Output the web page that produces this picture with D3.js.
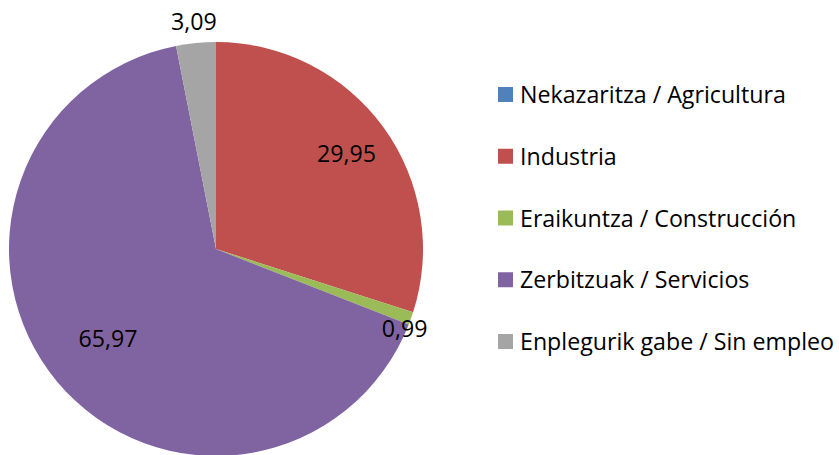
<!DOCTYPE html>
<html><head><meta charset="utf-8">
<script src="https://cdn.jsdelivr.net/npm/d3@7"></script>
<style>body{margin:0;background:#fff}svg{display:block}</style>
</head><body>
<svg id="c" width="839" height="455"></svg>
<script>
const categories = ["Nekazaritza / Agricultura","Industria","Eraikuntza / Construcción","Zerbitzuak / Servicios","Enplegurik gabe / Sin empleo"];
const values = [0, 29.95, 0.99, 65.97, 3.09];
const labels = ["", "29,95", "0,99", "65,97", "3,09"];
const colors = ["#4F81BD","#C0504D","#9BBB59","#8064A2","#A5A5A5"];

const svg = d3.select("#c");
const cx = 216, cy = 249, R = 207;
const font = "'Open Sans', sans-serif";

// fit font size so the first legend label spans ~266px like the reference
const probe = svg.append("text").style("font-family", font).style("font-size","20px").text(categories[0]);
const w = probe.node().getComputedTextLength();
probe.remove();
const fs = Math.max(14, Math.min(24, 20 * 266 / w));

const labelR = [0.7, 0.78, 0.99, 0.68, 1.1];
const labelDA = [0, 0, 0.06, 0, 0];

const pie = d3.pie().sort(null).value(d => d)(values);
const arc = d3.arc().innerRadius(0).outerRadius(R);
const g = svg.append("g").attr("transform", `translate(${cx},${cy})`);
g.selectAll("path").data(pie).join("path")
  .attr("d", arc).attr("fill", (d,i) => colors[i]);

g.selectAll("text").data(pie).join("text")
  .filter((d,i) => labels[i] !== "")
  .attr("transform", (d) => {
    const i = d.index;
    const r = R * labelR[i];
    const a = (d.startAngle + d.endAngle) / 2 + labelDA[i];
    return `translate(${r*Math.sin(a)},${-r*Math.cos(a)})`;
  })
  .attr("text-anchor","middle").attr("dy","0.35em")
  .style("font-family", font).style("font-size", fs + "px").attr("fill","#000")
  .text(d => labels[d.index]);

const leg = svg.append("g").attr("transform","translate(498,0)");
const ly = d3.scalePoint().domain(categories).range([95, 342]);
const items = leg.selectAll("g").data(categories).join("g")
  .attr("transform", d => `translate(0,${ly(d)})`);
items.append("rect").attr("x",0).attr("y",-8).attr("width",15).attr("height",15)
  .attr("fill", (d,i) => colors[i]);
items.append("text").attr("x",22).attr("dy","0.35em")
  .style("font-family", font).style("font-size", fs + "px").attr("fill","#000")
  .text(d => d);
</script>
</body></html>
